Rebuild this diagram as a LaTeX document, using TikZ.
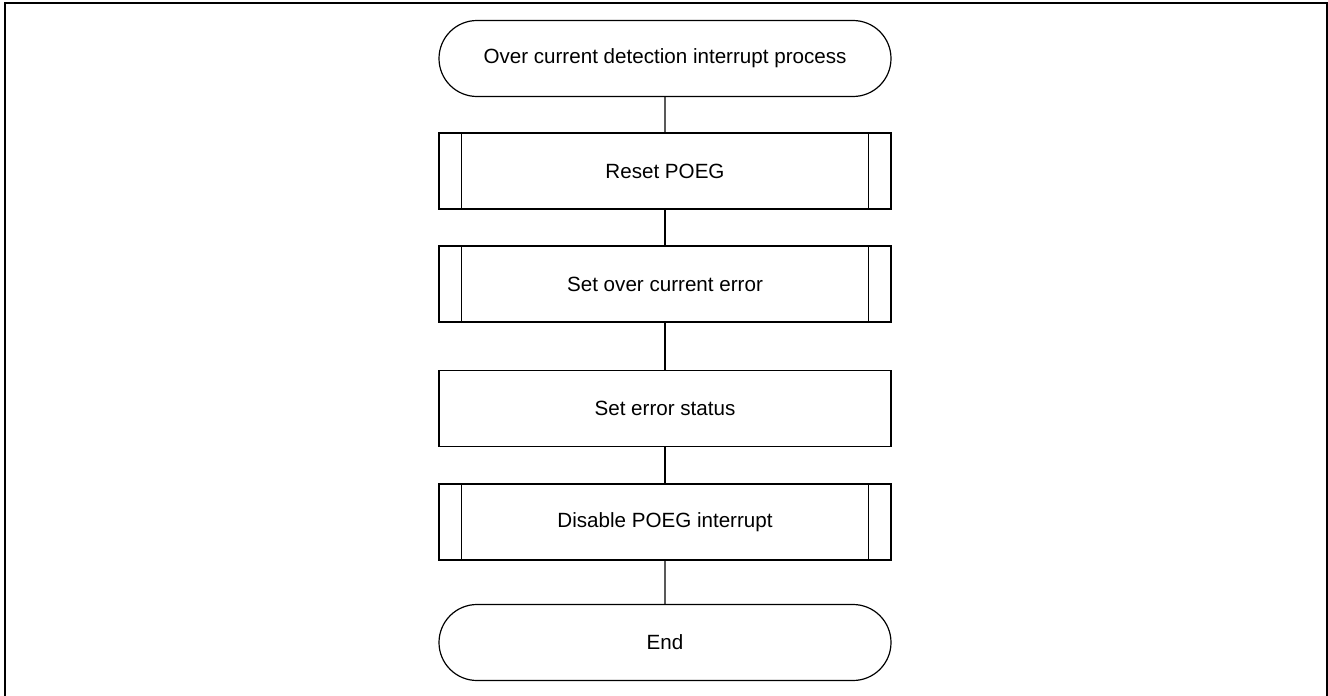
\documentclass[tikz,border=0pt]{standalone}
\usepackage{fontspec}
\setmainfont{Liberation Sans}
\usetikzlibrary{shapes.misc}
\begin{document}
\begin{tikzpicture}[x=1pt,y=-1pt,
  base/.style={draw=black, line width=1.2pt, minimum width=452pt, minimum height=76pt, inner sep=0pt, font=\fontsize{20.6pt}{23pt}\selectfont, fill=white},
  term/.style={base, rounded rectangle, rounded rectangle arc length=180},
  procbox/.style={base, rectangle},
  inner/.style={draw=black, line width=1.2pt},
  conn/.style={draw=black, line width=1.2pt}
]
\useasboundingbox (0,0) rectangle (1328,696);
\draw[line width=2.2pt] (5,700) -- (5,3) -- (1327,3) -- (1327,700);
\node[term] (start) at (665,58.5) {Over current detection interrupt process};
\node[procbox] (reset) at (665,171) {Reset POEG};
\node[procbox] (setoc) at (665,284) {Set over current error};
\node[procbox] (seterr) at (665,408.5) {Set error status};
\node[procbox] (dis) at (665,522) {Disable POEG interrupt};
\node[term] (end) at (665,642.5) {End};
\foreach \n in {reset,setoc,dis}{
  \draw[inner] ([xshift=23pt]\n.north west) -- ([xshift=23pt]\n.south west);
  \draw[inner] ([xshift=-23pt]\n.north east) -- ([xshift=-23pt]\n.south east);
}
\draw[conn] (start) -- (reset);
\draw[conn] (reset) -- (setoc);
\draw[conn] (setoc) -- (seterr);
\draw[conn] (seterr) -- (dis);
\draw[conn] (dis) -- (end);
\end{tikzpicture}
\end{document}
